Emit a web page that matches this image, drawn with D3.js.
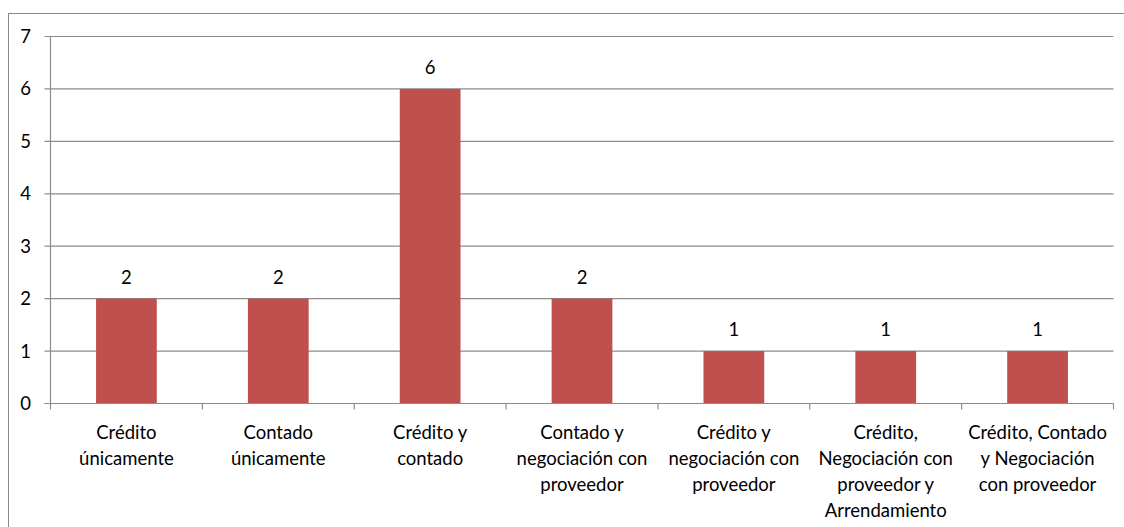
<!DOCTYPE html>
<html><head><meta charset="utf-8">
<script src="https://cdn.jsdelivr.net/npm/d3@7"></script>
<style>body{margin:0;background:#fff}svg{display:block}text{font-family:Lato,"Open Sans",sans-serif;fill:#000}</style>
</head><body>
<script>
const categories = [
  ["Crédito","únicamente"],
  ["Contado","únicamente"],
  ["Crédito y","contado"],
  ["Contado y","negociación con","proveedor"],
  ["Crédito y","negociación con","proveedor"],
  ["Crédito,","Negociación con","proveedor y","Arrendamiento"],
  ["Crédito, Contado","y Negociación","con proveedor"]
];
const values = [2,2,6,2,1,1,1];
const yTicks = [0,1,2,3,4,5,6,7];

const W=1124,H=527,FS=18.5;
const svg=d3.select("body").append("svg").attr("width",W).attr("height",H);
svg.append("rect").attr("x",8.5).attr("y",13.5).attr("width",W).attr("height",H)
  .attr("fill","none").attr("stroke","#898989").attr("stroke-width",1);

const mL=50.5,mR=1113.5,mT=36.5,mB=403.5;
const x=d3.scaleBand().domain(d3.range(categories.length)).range([mL,mR]).paddingInner(0).paddingOuter(0);
const y=d3.scaleLinear().domain([0,7]).range([mB,mT]);

const g=svg.append("g");
g.selectAll("line.grid").data(yTicks).join("line").attr("class","grid")
  .attr("x1",mL-6).attr("x2",mR).attr("y1",d=>y(d)).attr("y2",d=>y(d))
  .attr("stroke","#8c8c8c").attr("stroke-width",1.2);
g.selectAll("text.yl").data(yTicks).join("text").attr("class","yl")
  .attr("x",31).attr("y",d=>y(d)).attr("dy","0.35em").attr("text-anchor","end")
  .attr("font-size",FS).text(d=>d);
g.append("line").attr("x1",mL).attr("x2",mL).attr("y1",mT).attr("y2",mB)
  .attr("stroke","#8c8c8c").attr("stroke-width",1.2);
const xt=d3.range(categories.length+1).map(i=> i<categories.length? x(i): mR);
g.selectAll("line.xt").data(xt).join("line").attr("class","xt")
  .attr("x1",d=>d).attr("x2",d=>d).attr("y1",mB).attr("y2",mB+6)
  .attr("stroke","#8c8c8c").attr("stroke-width",1.2);
const bw=x.bandwidth()*0.4;
g.selectAll("rect.bar").data(values).join("rect").attr("class","bar")
  .attr("x",(d,i)=>x(i)+x.bandwidth()/2-bw/2).attr("width",bw)
  .attr("y",d=>y(d)).attr("height",d=>y(0)-y(d)).attr("fill","#C0504D");
g.append("line").attr("x1",mL-6).attr("x2",mR).attr("y1",mB).attr("y2",mB)
  .attr("stroke","#8c8c8c").attr("stroke-width",1.2);
g.selectAll("text.dl").data(values).join("text").attr("class","dl")
  .attr("x",(d,i)=>x(i)+x.bandwidth()/2).attr("y",d=>y(d)-15)
  .attr("text-anchor","middle").attr("font-size",FS).text(d=>d);
categories.forEach((lines,i)=>{
  const t=g.append("text").attr("text-anchor","middle").attr("font-size",FS);
  lines.forEach((l,j)=>t.append("tspan").attr("x",x(i)+x.bandwidth()/2).attr("y",439+j*26).text(l));
});
</script>
</body></html>
